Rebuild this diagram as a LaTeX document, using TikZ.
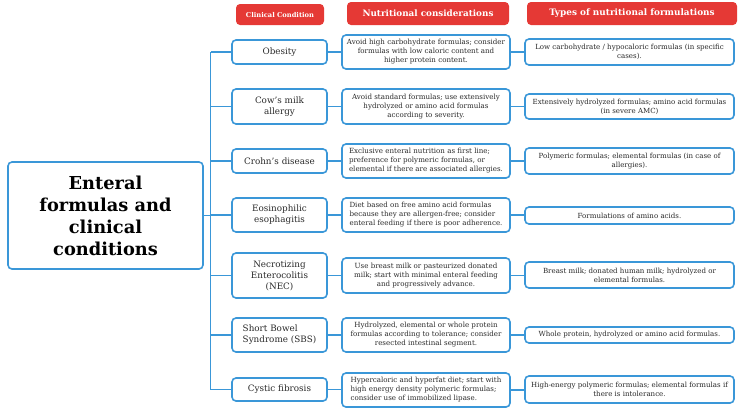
\documentclass[tikz,border=0pt]{standalone}
\usepackage{fontspec}
\setmainfont{DejaVu Serif}
\definecolor{hdr}{HTML}{E53935}
\definecolor{ln}{HTML}{3A97D8}
\definecolor{txt}{HTML}{2A2A2A}
\begin{document}
\begin{tikzpicture}[x=1pt,y=-1pt,
  box/.style={draw=ln, line width=1.6pt, rounded corners=4pt, fill=white, text=txt, inner sep=1pt, align=center},
  condbox/.style={box, minimum width=95pt, font=\fontsize{8.8}{11}\selectfont},
  consbox/.style={box, minimum width=168pt, font=\fontsize{7.1}{9}\selectfont},
  typebox/.style={box, minimum width=209pt, font=\fontsize{7.05}{9}\selectfont},
  hdrbox/.style={fill=hdr, rounded corners=4pt, text=white, inner sep=1pt},
  link/.style={draw=ln, line width=1.6pt}]
\useasboundingbox (0,0) rectangle (750,413);

% headers
\node[hdrbox, minimum width=88pt, minimum height=21pt, font=\fontsize{6.7}{8}\selectfont\bfseries] (h1) at (280,14.5) {Clinical Condition};
\node[hdrbox, minimum width=162pt, minimum height=23pt, font=\fontsize{8.8}{10}\selectfont\bfseries] (h2) at (428,13.5) {Nutritional considerations};
\node[hdrbox, minimum width=210pt, minimum height=23pt, font=\fontsize{8.9}{10}\selectfont\bfseries] (h3) at (632,13.5) {Types of nutritional formulations};

% main node
\node[box, minimum width=195pt, minimum height=107pt, font=\fontsize{17.8}{22}\selectfont\bfseries, text=black] (main) at (105.5,215.5) {Enteral\\formulas and\\clinical\\conditions};

% conditions
\node[condbox, minimum height=24pt] (c1) at (279.5,52) {Obesity};
\node[condbox, minimum height=35pt] (c2) at (279.5,106.5) {Cow's milk\\allergy};
\node[condbox, minimum height=24pt] (c3) at (279.5,161) {Crohn's disease};
\node[condbox, minimum height=34pt] (c4) at (279.5,215) {Eosinophilic\\esophagitis};
\node[condbox, minimum height=45pt] (c5) at (279.5,275.5) {Necrotizing\\Enterocolitis\\(NEC)};
\node[condbox, minimum height=34pt, align=left] (c6) at (279.5,335) {Short Bowel\\Syndrome (SBS)};
\node[condbox, minimum height=23pt] (c7) at (279.5,389.5) {Cystic fibrosis};

% considerations
\node[consbox, minimum height=34pt] (n1) at (426,52) {Avoid high carbohydrate formulas; consider\\formulas with low caloric content and\\higher protein content.};
\node[consbox, minimum height=35pt] (n2) at (426,106.5) {Avoid standard formulas; use extensively\\hydrolyzed or amino acid formulas\\according to severity.};
\node[consbox, minimum height=34pt, align=left] (n3) at (426,161) {Exclusive enteral nutrition as first line;\\preference for polymeric formulas, or\\elemental if there are associated allergies.};
\node[consbox, minimum height=34pt, align=left] (n4) at (426,215) {Diet based on free amino acid formulas\\because they are allergen-free; consider\\enteral feeding if there is poor adherence.};
\node[consbox, minimum height=35pt] (n5) at (426,275.5) {Use breast milk or pasteurized donated\\milk; start with minimal enteral feeding\\and progressively advance.};
\node[consbox, minimum height=34pt] (n6) at (426,335) {Hydrolyzed, elemental or whole protein\\formulas according to tolerance; consider\\resected intestinal segment.};
\node[consbox, minimum height=34pt, align=left] (n7) at (426,390) {Hypercaloric and hyperfat diet; start with\\high energy density polymeric formulas;\\consider use of immobilized lipase.};

% types
\node[typebox, minimum height=26pt] (f1) at (629.5,52) {Low carbohydrate / hypocaloric formulas (in specific\\cases).};
\node[typebox, minimum height=25pt] (f2) at (629.5,106.5) {Extensively hydrolyzed formulas; amino acid formulas\\(in severe AMC)};
\node[typebox, minimum height=26pt] (f3) at (629.5,161) {Polymeric formulas; elemental formulas (in case of\\allergies).};
\node[typebox, minimum height=17pt] (f4) at (629.5,215.5) {Formulations of amino acids.};
\node[typebox, minimum height=26pt] (f5) at (629.5,275) {Breast milk; donated human milk; hydrolyzed or\\elemental formulas.};
\node[typebox, minimum height=16pt] (f6) at (629.5,335) {Whole protein, hydrolyzed or amino acid formulas.};
\node[typebox, minimum height=27pt] (f7) at (629.5,389.5) {High-energy polymeric formulas; elemental formulas if\\there is intolerance.};

% trunk
\coordinate (ttop) at (210.5,52);
\coordinate (tbot) at (210.5,389.5);
\draw[link] (ttop) -- (tbot);
\draw[link] (main.east) -- (main.east -| ttop);
\foreach \i in {1,...,7} {
  \draw[link] (c\i.west -| ttop) -- (c\i.west);
  \draw[link] (c\i.east) -- (c\i.east -| n\i.west);
  \draw[link] (n\i.east) -- (n\i.east -| f\i.west);
}
\end{tikzpicture}
\end{document}
